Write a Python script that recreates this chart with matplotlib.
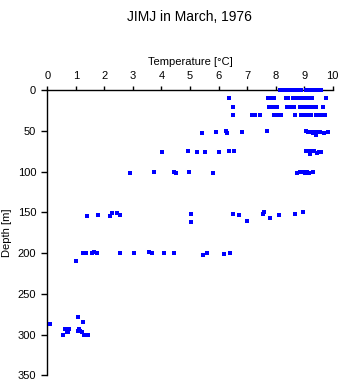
import matplotlib
matplotlib.use("Agg")
import matplotlib.pyplot as plt

plt.rcParams['font.family'] = ['Liberation Sans', 'DejaVu Sans']

title = "JIMJ in March, 1976"
xlabel = "Temperature [\u00b0C]"
ylabel = "Depth [m]"
xticks = [0, 1, 2, 3, 4, 5, 6, 7, 8, 9, 10]
yticks = [0, 50, 100, 150, 200, 250, 300, 350]

# depth 0
t0 = [8.15, 8.2, 8.27, 8.33, 8.45, 8.5, 8.55, 8.6, 8.66, 8.71, 8.85, 8.9,
      9.07, 9.12, 9.25, 9.3, 9.35, 9.42, 9.48, 9.55, 9.6]
d0 = [0] * len(t0)
# depth ~10
t10 = [6.38, 7.72, 7.82, 7.93, 8.38, 8.45, 8.62, 8.68, 8.74, 8.8, 8.86, 8.92,
       8.98, 9.05, 9.12, 9.2, 9.27, 9.75]
d10 = [10] * len(t10)
# depth ~20
t20 = [6.5, 7.77, 7.83, 7.9, 7.98, 8.05, 8.4, 8.5, 8.66, 8.87, 8.93, 9.0,
       9.07, 9.14, 9.21, 9.28, 9.35, 9.4, 9.65]
d20 = [20] * len(t20)
# depth ~30
t30 = [6.5, 7.17, 7.27, 7.45, 7.96, 8.04, 8.13, 8.2, 8.68, 8.88, 8.95, 9.02,
       9.1, 9.18, 9.25, 9.4, 9.47, 9.58, 9.65, 9.73]
d30 = [30] * len(t30)
# depth ~50
t50 = [5.43, 5.9, 6.27, 6.3, 6.83, 7.69, 9.05, 9.15, 9.22, 9.3, 9.35, 9.42,
       9.47, 9.57, 9.7, 9.82]
d50 = [52, 51, 50, 53, 51, 50, 50, 51, 51, 52, 51, 55, 51, 51, 52, 51]
# depth ~75
t75 = [4.03, 4.93, 5.23, 5.54, 6.0, 6.36, 6.55, 9.07, 9.15, 9.2, 9.22, 9.28,
       9.36, 9.45, 9.52, 9.6]
d75 = [76, 75, 76, 76, 76, 75, 75, 74, 75, 78, 78, 75, 74, 77, 76, 76]
# depth ~100
t100 = [2.91, 3.73, 4.45, 4.51, 4.97, 5.81, 8.74, 8.86, 8.95, 9.03, 9.1,
        9.18, 9.3]
d100 = [101, 100, 100, 101, 100, 101, 101, 100, 100, 101, 100, 101, 100]
# depth ~150
t150 = [1.4, 1.79, 2.21, 2.28, 2.45, 2.56, 5.05, 5.02, 6.52, 6.7, 6.98, 7.55,
        7.6, 7.8, 8.13, 8.69, 8.97]
d150 = [154, 153, 154, 151, 151, 153, 152, 162, 152, 153, 160, 152, 150, 157,
        153, 152, 150]
# depth ~200
t200 = [1.02, 1.24, 1.3, 1.36, 1.56, 1.65, 1.75, 2.55, 3.04, 3.58, 3.66, 4.1,
        4.45, 5.47, 5.61, 6.2, 6.41]
d200 = [210, 200, 200, 200, 200, 199, 200, 200, 200, 199, 200, 200, 200, 202,
        200, 201, 200]
# depth ~290
t290 = [0.09, 0.54, 0.63, 0.68, 0.74, 0.77, 1.06, 1.06, 1.11, 1.16, 1.2, 1.24,
        1.27, 1.4, 1.43]
d290 = [287, 301, 293.5, 297, 297, 293, 278, 295, 293, 296, 297, 285, 300,
        300, 300]

temps = t0 + t10 + t20 + t30 + t50 + t75 + t100 + t150 + t200 + t290
depths = d0 + d10 + d20 + d30 + d50 + d75 + d100 + d150 + d200 + d290

fig = plt.figure(figsize=(3.41, 3.84), dpi=100)
ax = fig.add_axes([0.1387, 0.0227, 0.837, 0.7421])
ax.plot(temps, depths, linestyle='none', marker='s', markersize=2.3,
        color='#0000ff', markeredgewidth=0, clip_on=False, zorder=3)

ax.set_xlim(0, 10)
ax.set_ylim(350, 0)
ax.xaxis.set_ticks_position('top')
ax.xaxis.set_label_position('top')
ax.set_xticks(xticks)
ax.set_yticks(yticks)
ax.spines['right'].set_visible(False)
ax.spines['bottom'].set_visible(False)
for s in ('top', 'left'):
    ax.spines[s].set_linewidth(1.0)
ax.tick_params(axis='x', direction='out', length=3, width=1, pad=4, labelsize=8)
ax.tick_params(axis='y', direction='out', length=4, width=1, pad=4, labelsize=8)
ax.set_xlabel(xlabel, fontsize=8, labelpad=4)
ax.set_ylabel(ylabel, fontsize=8, labelpad=4)
fig.text(0.557, 0.975, title, ha='center', va='top', fontsize=10)

fig.savefig("out.png", dpi=100)
